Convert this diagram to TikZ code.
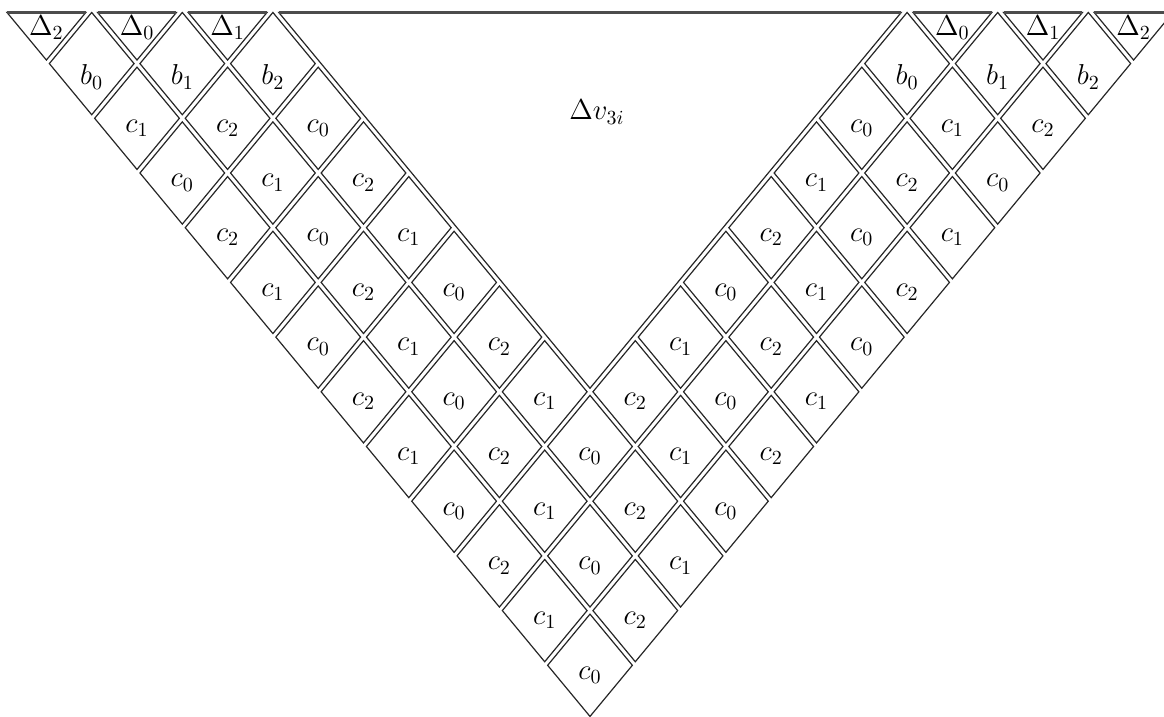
\documentclass[tikz,border=0pt]{standalone}
\usepackage{amsmath}
\newcommand\ins{0.0325}
\newcommand\topins{0.065}
\tikzset{
  cellline/.style={draw=black!85, line width=0.6pt, line join=miter},
  topedge/.style={draw=black!70, line width=1.3pt},
  labfont/.style={font=\fontsize{14.4}{17}\selectfont},
  lab/.style={labfont, anchor=north, inner sep=0pt, yshift=-0.5pt},
  tlab/.style={labfont, anchor=base, inner sep=0pt, yshift=-4pt},
  biglab/.style={labfont, anchor=base, inner sep=0pt}
}
% diamond cell (a,b) with label
\newcommand\mycell[3]{%
  \draw[cellline] (#1+\ins,#2+\ins) -- (#1+1-\ins,#2+\ins) -- (#1+1-\ins,#2+1-\ins) -- (#1+\ins,#2+1-\ins) -- cycle;
  \node[lab] (n-#1-#2) at (#1+0.5,#2+0.5) {#3};
}
% lower half-cell triangle (a,b), a+b=12
\newcommand\mytri[3]{%
  \draw[cellline] (#1+\ins,#2+\ins) -- (13-\topins-#2-\ins,#2+\ins) -- (#1+\ins,13-\topins-#1-\ins) -- cycle;
  \draw[topedge] (13-\topins-#2-\ins,#2+\ins) -- (#1+\ins,13-\topins-#1-\ins);
  \node[tlab] (t-#1-#2) at (#1+0.3333,#2+0.3333) {#3};
}
\begin{document}
\begin{tikzpicture}
\useasboundingbox (0,0) rectangle (582pt,-358.5pt);
\clip (0,0) rectangle (582pt,-358.5pt);
\begin{scope}[shift={(295pt,-360pt)}, x={(-22.65pt,27.35pt)}, y={(22.65pt,27.35pt)}]
  % left arm
  \foreach \b in {0,1,2}{
    \pgfmathtruncatemacro\amax{10-\b}
    \foreach \a in {0,...,\amax}{
      \pgfmathtruncatemacro\k{mod(\a-\b+30,3)}
      \mycell{\a}{\b}{$c_{\k}$}
    }
  }
  % right arm
  \foreach \a in {0,1,2}{
    \pgfmathtruncatemacro\bmax{10-\a}
    \foreach \b in {3,...,\bmax}{
      \pgfmathtruncatemacro\k{mod(\a-\b+30,3)}
      \mycell{\a}{\b}{$c_{\k}$}
    }
  }
  % b row
  \mycell{11}{0}{$b_0$}
  \mycell{10}{1}{$b_1$}
  \mycell{9}{2}{$b_2$}
  \mycell{2}{9}{$b_0$}
  \mycell{1}{10}{$b_1$}
  \mycell{0}{11}{$b_2$}
  % top triangles
  \mytri{12}{0}{$\Delta_2$}
  \mytri{11}{1}{$\Delta_0$}
  \mytri{10}{2}{$\Delta_1$}
  \mytri{2}{10}{$\Delta_0$}
  \mytri{1}{11}{$\Delta_1$}
  \mytri{0}{12}{$\Delta_2$}
  % big triangle
  \draw[cellline] (3+\ins,3+\ins) -- (10-\topins-\ins,3+\ins) -- (3+\ins,10-\topins-\ins) -- cycle;
  \draw[topedge] (10-\topins-\ins,3+\ins) -- (3+\ins,10-\topins-\ins);
\end{scope}
\node[biglab] (dv) at (298.5pt,-60pt) {$\Delta v_{3i}$};
\end{tikzpicture}
\end{document}
